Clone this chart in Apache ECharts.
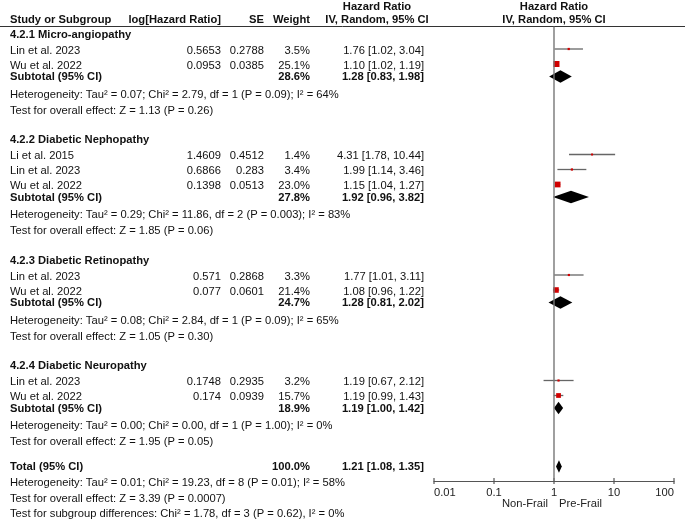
<!DOCTYPE html>
<html>
<head>
<meta charset="utf-8">
<script src="https://cdn.jsdelivr.net/npm/echarts@6/dist/echarts.min.js"></script>
<style>
html,body{margin:0;padding:0;background:#fff;}
#chart{width:685px;height:519px;}
</style>
</head>
<body>
<div id="chart"></div>
<script>
// ---------------- DATA ----------------
const groupNames = ['4.2.1 Micro-angiopathy', '4.2.2 Diabetic Nephopathy', '4.2.3 Diabetic Retinopathy', '4.2.4 Diabetic Neuropathy'];
const studyGroup = [0, 0, 1, 1, 1, 2, 2, 3, 3];
const studyNames = ['Lin et al. 2023', 'Wu et al. 2022', 'Li et al. 2015', 'Lin et al. 2023', 'Wu et al. 2022', 'Lin et al. 2023', 'Wu et al. 2022', 'Lin et al. 2023', 'Wu et al. 2022'];
const studyLogHR = ['0.5653', '0.0953', '1.4609', '0.6866', '0.1398', '0.571', '0.077', '0.1748', '0.174'];
const studySE = ['0.2788', '0.0385', '0.4512', '0.283', '0.0513', '0.2868', '0.0601', '0.2935', '0.0939'];
const studyWeight = [3.5, 25.1, 1.4, 3.4, 23.0, 3.3, 21.4, 3.2, 15.7];
const studyHR = [1.76, 1.10, 4.31, 1.99, 1.15, 1.77, 1.08, 1.19, 1.19];
const studyLo = [1.02, 1.02, 1.78, 1.14, 1.04, 1.01, 0.96, 0.67, 0.99];
const studyHi = [3.04, 1.19, 10.44, 3.46, 1.27, 3.11, 1.22, 2.12, 1.43];

const subWeight = [28.6, 27.8, 24.7, 18.9];
const subHR = [1.28, 1.92, 1.28, 1.19];
const subLo = [0.83, 0.96, 0.81, 1.00];
const subHi = [1.98, 3.82, 2.02, 1.42];
const subHet = [
  'Heterogeneity: Tau\u00b2 = 0.07; Chi\u00b2 = 2.79, df = 1 (P = 0.09); I\u00b2 = 64%',
  'Heterogeneity: Tau\u00b2 = 0.29; Chi\u00b2 = 11.86, df = 2 (P = 0.003); I\u00b2 = 83%',
  'Heterogeneity: Tau\u00b2 = 0.08; Chi\u00b2 = 2.84, df = 1 (P = 0.09); I\u00b2 = 65%',
  'Heterogeneity: Tau\u00b2 = 0.00; Chi\u00b2 = 0.00, df = 1 (P = 1.00); I\u00b2 = 0%'
];
const subTest = [
  'Test for overall effect: Z = 1.13 (P = 0.26)',
  'Test for overall effect: Z = 1.85 (P = 0.06)',
  'Test for overall effect: Z = 1.05 (P = 0.30)',
  'Test for overall effect: Z = 1.95 (P = 0.05)'
];
const totalWeight = 100.0;
const totalHR = 1.21, totalLo = 1.08, totalHi = 1.35;
const totalHet = 'Heterogeneity: Tau\u00b2 = 0.01; Chi\u00b2 = 19.23, df = 8 (P = 0.01); I\u00b2 = 58%';
const totalTest = 'Test for overall effect: Z = 3.39 (P = 0.0007)';
const subgroupTest = 'Test for subgroup differences: Chi\u00b2 = 1.78, df = 3 (P = 0.62), I\u00b2 = 0%';
const axisTicks = [0.01, 0.1, 1, 10, 100];
const leftLabel = 'Non-Frail', rightLabel = 'Pre-Frail';

// ---------------- LAYOUT ----------------
const COL = { name: 10, logHR: 221, se: 264, weight: 310, hr: 424, hrHead: 377, plotHead: 554 };
const STEP = { titleToStudy: 16, study: 15, studyToSub: 11.5, subToHet: 17.5, hetToTest: 16, testToTitle: 29.5, testToTotal: 25, totalToHet: 16, hetToTest2: 15.5, testToSub: 15 };
const headerLineY = 26.5, axisY = 481, chartW = 685, chartH = 519;
const FS = 11.2;

const fmt = v => v.toFixed(2);
const ci = (h, l, u) => fmt(h) + ' [' + fmt(l) + ', ' + fmt(u) + ']';

const texts = [];
const studyMarks = [];
const diamonds = [];
function T(x, y, s, a, b) { texts.push({ x, y, s, a: a || 'left', b: !!b }); }

T(COL.hrHead, 7, 'Hazard Ratio', 'center', true);
T(COL.plotHead, 7, 'Hazard Ratio', 'center', true);
T(COL.name, 20, 'Study or Subgroup', 'left', true);
T(COL.logHR, 20, 'log[Hazard Ratio]', 'right', true);
T(COL.se, 20, 'SE', 'right', true);
T(COL.weight, 20, 'Weight', 'right', true);
T(COL.hrHead, 20, 'IV, Random, 95% CI', 'center', true);
T(COL.plotHead, 20, 'IV, Random, 95% CI', 'center', true);

let y = 34.5;
groupNames.forEach((g, gi) => {
  T(COL.name, y, g, 'left', true);
  y += STEP.titleToStudy;
  const idx = studyGroup.map((v, i) => v === gi ? i : -1).filter(i => i >= 0);
  idx.forEach((i, k) => {
    if (k > 0) y += STEP.study;
    T(COL.name, y, studyNames[i]);
    T(COL.logHR, y, studyLogHR[i], 'right');
    T(COL.se, y, studySE[i], 'right');
    T(COL.weight, y, studyWeight[i].toFixed(1) + '%', 'right');
    T(COL.hr, y, ci(studyHR[i], studyLo[i], studyHi[i]), 'right');
    studyMarks.push([studyHR[i], studyLo[i], studyHi[i], y - 1.5, studyWeight[i]]);
  });
  y += STEP.studyToSub;
  T(COL.name, y, 'Subtotal (95% CI)', 'left', true);
  T(COL.weight, y, subWeight[gi].toFixed(1) + '%', 'right', true);
  T(COL.hr, y, ci(subHR[gi], subLo[gi], subHi[gi]), 'right', true);
  diamonds.push([subHR[gi], subLo[gi], subHi[gi], y - 0.5]);
  y += STEP.subToHet;
  T(COL.name, y, subHet[gi]);
  y += STEP.hetToTest;
  T(COL.name, y, subTest[gi]);
  y += (gi < groupNames.length - 1) ? STEP.testToTitle : STEP.testToTotal;
});
T(COL.name, y, 'Total (95% CI)', 'left', true);
T(COL.weight, y, totalWeight.toFixed(1) + '%', 'right', true);
T(COL.hr, y, ci(totalHR, totalLo, totalHi), 'right', true);
diamonds.push([totalHR, totalLo, totalHi, y - 0.5]);
y += STEP.totalToHet; T(COL.name, y, totalHet);
y += STEP.hetToTest2; T(COL.name, y, totalTest);
y += STEP.testToSub; T(COL.name, y, subgroupTest);

// ---------------- CHART ----------------
const FONT = '"Liberation Sans", Arial, Helvetica, sans-serif';
const chart = echarts.init(document.getElementById('chart'), null, { renderer: 'canvas' });
chart.setOption({
  animation: false,
  backgroundColor: '#fff',
  grid: [
    { left: 434, right: chartW - 674, top: 0, bottom: chartH - axisY },
    { left: 0, right: 0, top: 0, bottom: 0 }
  ],
  xAxis: [
    {
      gridIndex: 0, type: 'log', logBase: 10, min: axisTicks[0], max: axisTicks[axisTicks.length - 1],
      position: 'bottom',
      axisLine: { show: true, onZero: false, lineStyle: { color: '#555', width: 1.2 } },
      axisTick: { show: false },
      axisLabel: {
        color: '#222', fontSize: FS, fontFamily: FONT, margin: 6,
        alignMinLabel: 'left', alignMaxLabel: 'right',
        formatter: v => String(+v.toPrecision(3))
      },
      splitLine: { show: false }, minorTick: { show: false }
    },
    { gridIndex: 1, type: 'value', min: 0, max: chartW, show: false }
  ],
  yAxis: [
    { gridIndex: 0, type: 'value', min: 0, max: axisY, inverse: true, show: false },
    { gridIndex: 1, type: 'value', min: 0, max: chartH, inverse: true, show: false }
  ],
  series: [
    { // header rule
      type: 'line', xAxisIndex: 1, yAxisIndex: 1, symbol: 'none', silent: true,
      data: [[0, headerLineY], [chartW, headerLineY]],
      lineStyle: { color: '#333', width: 1 }
    },
    { // line of no effect
      type: 'line', xAxisIndex: 0, yAxisIndex: 0, symbol: 'none', silent: true,
      data: [[1, headerLineY], [1, axisY]],
      lineStyle: { color: '#777', width: 1.4 }
    },
    { // axis ticks crossing the axis line
      type: 'custom', xAxisIndex: 0, yAxisIndex: 0, clip: false,
      data: axisTicks.map(t => [t, axisY]),
      renderItem: (params, api) => {
        const c = api.coord([api.value(0), api.value(1)]);
        return { type: 'line', shape: { x1: c[0], y1: c[1] - 3, x2: c[0], y2: c[1] + 3 }, style: { stroke: '#555', lineWidth: 1.2 } };
      }
    },
    { // study CIs and squares
      type: 'custom', xAxisIndex: 0, yAxisIndex: 0, clip: false,
      encode: { x: [0, 1, 2], y: 3 },
      data: studyMarks,
      renderItem: (params, api) => {
        const yy = api.value(3);
        const c = api.coord([api.value(0), yy]);
        const lo = api.coord([api.value(1), yy]);
        const hi = api.coord([api.value(2), yy]);
        const s = Math.max(2, Math.sqrt(api.value(4)) * 1.2);
        return {
          type: 'group', children: [
            { type: 'line', shape: { x1: lo[0], y1: lo[1], x2: hi[0], y2: hi[1] }, style: { stroke: '#666', lineWidth: 1.3 } },
            { type: 'rect', shape: { x: c[0] - s / 2, y: c[1] - s / 2, width: s, height: s }, style: { fill: '#d00000' } }
          ]
        };
      }
    },
    { // diamonds
      type: 'custom', xAxisIndex: 0, yAxisIndex: 0, clip: false,
      encode: { x: [0, 1, 2], y: 3 },
      data: diamonds,
      renderItem: (params, api) => {
        const yy = api.value(3);
        const c = api.coord([api.value(0), yy]);
        const lo = api.coord([api.value(1), yy]);
        const hi = api.coord([api.value(2), yy]);
        const h = 6.2;
        return {
          type: 'polygon',
          shape: { points: [[lo[0], c[1]], [c[0], c[1] - h], [hi[0], c[1]], [c[0], c[1] + h]] },
          style: { fill: '#000' }
        };
      }
    },
    { // axis direction labels
      type: 'custom', xAxisIndex: 0, yAxisIndex: 0, clip: false,
      data: [[1, 504]],
      renderItem: (params, api) => {
        const c = api.coord([api.value(0), api.value(1)]);
        const st = (t, al) => ({ text: t, align: al, verticalAlign: 'middle', fontSize: FS, fontFamily: FONT, fill: '#222' });
        return {
          type: 'group', children: [
            { type: 'text', x: c[0] - 6, y: c[1], style: st(leftLabel, 'right') },
            { type: 'text', x: c[0] + 5, y: c[1], style: st(rightLabel, 'left') }
          ]
        };
      }
    },
    { // table text
      type: 'custom', xAxisIndex: 1, yAxisIndex: 1, clip: false,
      data: texts.map(t => [t.x, t.y]),
      renderItem: (params, api) => {
        const t = texts[params.dataIndex];
        const p = api.coord([api.value(0), api.value(1)]);
        return {
          type: 'text', x: p[0], y: p[1],
          style: {
            text: t.s, align: t.a, verticalAlign: 'middle',
            fontSize: FS, fontWeight: t.b ? 'bold' : 'normal', fontFamily: FONT, fill: '#111'
          }
        };
      }
    }
  ]
});
</script>
</body>
</html>
